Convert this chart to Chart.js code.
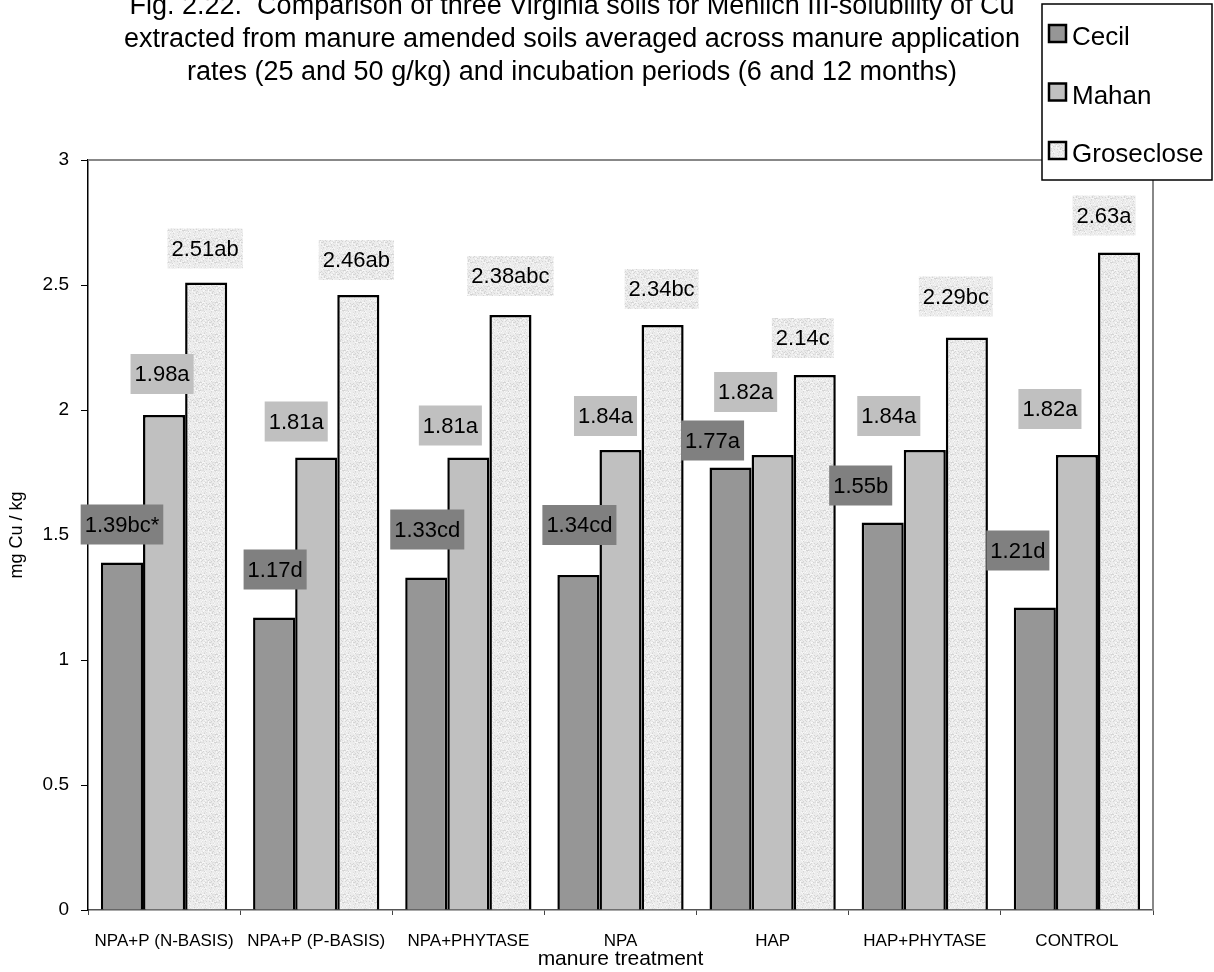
<!DOCTYPE html>
<html>
<head>
<meta charset="utf-8">
<script src="https://cdn.jsdelivr.net/npm/chart.js@4/dist/chart.umd.min.js"></script>
<style>
  body { margin: 0; background: #fff; }
  #wrap { width: 1214px; height: 972px; }
</style>
</head>
<body>
<div id="wrap"><canvas id="chart" width="1214" height="972"></canvas></div>
<script>
// data
const treatments = ['NPA+P (N-BASIS)', 'NPA+P (P-BASIS)', 'NPA+PHYTASE', 'NPA', 'HAP', 'HAP+PHYTASE', 'CONTROL']
const cecil = [1.39, 1.17, 1.33, 1.34, 1.77, 1.55, 1.21]
const mahan = [1.98, 1.81, 1.81, 1.84, 1.82, 1.84, 1.82]
const groseclose = [2.51, 2.46, 2.38, 2.34, 2.14, 2.29, 2.63]
const cecilLabels = ['1.39bc*', '1.17d', '1.33cd', '1.34cd', '1.77a', '1.55b', '1.21d']
const mahanLabels = ['1.98a', '1.81a', '1.81a', '1.84a', '1.82a', '1.84a', '1.82a']
const groseLabels = ['2.51ab', '2.46ab', '2.38abc', '2.34bc', '2.14c', '2.29bc', '2.63a']
const yTicks = [0, 0.5, 1, 1.5, 2, 2.5, 3]
const titleLines = [
    'Fig. 2.22.  Comparison of three Virginia soils for Mehlich III-solubility of Cu',
    'extracted from manure amended soils averaged across manure application',
    'rates (25 and 50 g/kg) and incubation periods (6 and 12 months)'
]

const FONT = '"Liberation Sans", Arial, sans-serif'
const ctx = document.getElementById('chart').getContext('2d')

// speckled light fill, like the old excel texture
const makeSpeckle = () => {
    const c = document.createElement('canvas')
    c.width = 16
    c.height = 16
    const g = c.getContext('2d')
    g.fillStyle = '#ececec'
    g.fillRect(0, 0, 16, 16)
    for (let x = 0; x < 16; x++) {
        for (let y = 0; y < 16; y++) {
            const h = (x * 37 + y * 91 + x * y * 17) % 23
            if (h < 3) g.fillStyle = '#d4d4d4'
            else if (h < 6) g.fillStyle = '#e0e0e0'
            else if (h > 19) g.fillStyle = '#f8f8f8'
            else continue
            g.fillRect(x, y, 1, 1)
        }
    }
    return ctx.createPattern(c, 'repeat')
}
const speckle = makeSpeckle()

// label nudges relative to the bar top centre (px): [dx, dy]
const labelNudge = [
    [[0, -38], [1, -48], [1, -48], [1, -50], [-18, -27], [-22, -37], [-17, -57]],
    [[-2, -41], [-20, -36], [-18, -32], [-15, -34], [-27, -63], [-36, -34], [-27, -46]],
    [[-1, -34], [-2, -35], [0, -39], [-1, -36], [-12, -37], [-11, -41], [-15, -37]]
]
const labelBg = ['#808080', '#c0c0c0', speckle]
const labelText = [cecilLabels, mahanLabels, groseLabels]

const labelsPlugin = {
    id: 'boxLabels',
    afterDatasetsDraw(chart) {
        const c = chart.ctx
        c.save()
        c.font = `22px ${FONT}`
        c.textAlign = 'center'
        c.textBaseline = 'middle'
        chart.data.datasets.forEach((ds, i) => {
            chart.getDatasetMeta(i).data.forEach((bar, j) => {
                const txt = labelText[i][j]
                const [dx, dy] = labelNudge[i][j]
                const cx = bar.x + dx
                const cy = bar.y + dy
                const w = c.measureText(txt).width + 8
                const h = 40
                c.fillStyle = labelBg[i]
                c.fillRect(cx - w / 2, cy - h / 2, w, h)
                c.fillStyle = '#000'
                c.fillText(txt, cx, cy + 1)
            })
        })
        c.restore()
    }
}

const framePlugin = {
    id: 'frame',
    afterDraw(chart) {
        const c = chart.ctx
        const {left, top, right, bottom} = chart.chartArea
        c.save()
        // grey top and right border of the plot area
        c.strokeStyle = '#888'
        c.lineWidth = 2
        c.beginPath()
        c.moveTo(left, top)
        c.lineTo(right, top)
        c.lineTo(right, bottom)
        c.stroke()

        // title
        c.fillStyle = '#000'
        c.font = `27px ${FONT}`
        c.textAlign = 'center'
        c.textBaseline = 'middle'
        titleLines.forEach((line, i) => c.fillText(line, 572, 7 + i * 33))

        // legend box
        c.fillStyle = '#fff'
        c.fillRect(1042, 4, 170, 176)
        c.strokeStyle = '#000'
        c.lineWidth = 1.5
        c.strokeRect(1042, 4, 170, 176)
        c.font = `26px ${FONT}`
        c.textAlign = 'left'
        chart.data.datasets.forEach((ds, i) => {
            const y = 34 + i * 58.5
            c.fillStyle = ds.backgroundColor
            c.fillRect(1049, y - 9, 17, 17)
            c.lineWidth = 2.5
            c.strokeStyle = '#000'
            c.strokeRect(1049, y - 9, 17, 17)
            c.fillStyle = '#000'
            c.fillText(ds.label, 1072, y + 4)
        })
        c.restore()
    }
}

const barStyle = {borderColor: '#000', borderWidth: 2.5, categoryPercentage: 0.83, barPercentage: 1}

new Chart(ctx, {
    type: 'bar',
    data: {
        labels: treatments,
        datasets: [
            {label: 'Cecil', data: cecil, backgroundColor: '#969696', ...barStyle},
            {label: 'Mahan', data: mahan, backgroundColor: '#c0c0c0', ...barStyle},
            {label: 'Groseclose', data: groseclose, backgroundColor: speckle, ...barStyle}
        ]
    },
    options: {
        responsive: false,
        animation: false,
        layout: {padding: {top: 160, right: 61, left: 0, bottom: 0}},
        plugins: {
            legend: {display: false},
            title: {display: false},
            tooltip: {enabled: false}
        },
        scales: {
            x: {
                afterFit: (scale) => { scale.height = 62 },
                grid: {display: true, drawOnChartArea: false, offset: true, tickLength: 5, color: '#444'},
                border: {color: '#555', width: 1.5},
                ticks: {color: '#000', padding: 16, font: {family: FONT, size: 17}, maxRotation: 0, autoSkip: false},
                title: {display: true, text: 'manure treatment', color: '#000', padding: {top: 0, bottom: 0}, font: {family: FONT, size: 21}}
            },
            y: {
                min: 0,
                max: 3,
                afterFit: (scale) => { scale.width = 88 },
                afterBuildTicks: (scale) => { scale.ticks = yTicks.map(v => ({value: v})) },
                grid: {display: true, drawOnChartArea: false, tickLength: 7, color: '#000'},
                border: {color: '#000', width: 1.5},
                ticks: {color: '#000', padding: 12, font: {family: FONT, size: 19}, callback: (v) => String(v)},
                title: {display: true, text: 'mg Cu / kg', color: '#000', padding: {top: 6, bottom: 0}, font: {family: FONT, size: 18}}
            }
        }
    },
    plugins: [labelsPlugin, framePlugin]
})
</script>
</body>
</html>
